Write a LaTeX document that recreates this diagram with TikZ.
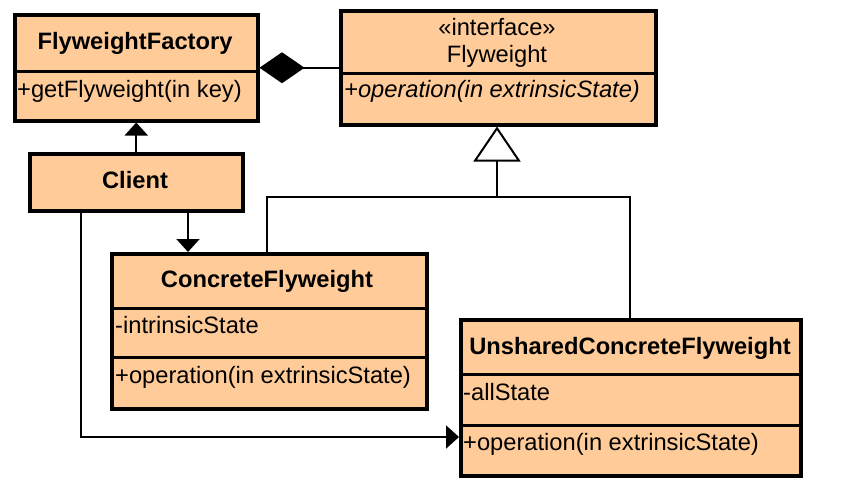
\documentclass[tikz,border=0pt]{standalone}
\usepackage{fontspec}
\setmainfont{Liberation Sans}
\usetikzlibrary{arrows.meta}
\definecolor{boxfill}{RGB}{255,204,153}
\begin{document}
\begin{tikzpicture}[x=1pt,y=-1pt,
  cls/.style={draw, fill=boxfill, line width=3.5pt, rectangle, inner sep=0pt, anchor=north west},
  divider/.style={line width=3pt},
  conn/.style={line width=2pt},
  txt/.style={inner sep=0pt, font=\fontsize{23.7}{28}\selectfont},
  ttl/.style={txt, font=\fontsize{23.7}{28}\selectfont\bfseries, anchor=base},
  mem/.style={txt, anchor=base west},
  navtip/.style={-{Triangle[length=13pt,width=23pt]}},
]
\useasboundingbox (0,0) rectangle (865,493);
% class boxes
\node[cls, minimum width=243pt, minimum height=106pt] (fact) at (13,13) {};
\node[cls, minimum width=315pt, minimum height=114pt] (fly) at (339,9) {};
\node[cls, minimum width=213pt, minimum height=57pt] (client) at (28,152) {};
\node[cls, minimum width=315pt, minimum height=155pt] (cf) at (110,252) {};
\node[cls, minimum width=340pt, minimum height=156pt] (ucf) at (459,318) {};
% dividers
\draw[divider] (fact.west |- 0,71) -- (fact.east |- 0,71);
\draw[divider] (fly.west |- 0,73) -- (fly.east |- 0,73);
\draw[divider] (cf.west |- 0,308) -- (cf.east |- 0,308);
\draw[divider] (cf.west |- 0,357) -- (cf.east |- 0,357);
\draw[divider] (ucf.west |- 0,374) -- (ucf.east |- 0,374);
\draw[divider] (ucf.west |- 0,425) -- (ucf.east |- 0,425);
% texts
\node[ttl] (factT) at (135,49) {FlyweightFactory};
\node[mem] (factM) at (17,97) {+getFlyweight(in key)};
\node[txt, anchor=base] (flyS) at (497,35) {«interface»};
\node[txt, anchor=base] (flyT) at (497,62) {Flyweight};
\node[mem, font=\fontsize{23.7}{28}\selectfont\itshape] (flyM) at (344,97) {+operation(in extrinsicState)};
\node[ttl] (clientT) at (135,188) {Client};
\node[ttl] (cfT) at (267,287) {ConcreteFlyweight};
\node[mem] (cfA) at (115,333) {-intrinsicState};
\node[mem] (cfM) at (115,383) {+operation(in extrinsicState)};
\node[ttl] (ucfT) at (630,354) {UnsharedConcreteFlyweight};
\node[mem] (ucfA) at (463,400) {-allState};
\node[mem] (ucfM) at (463,450) {+operation(in extrinsicState)};
% connectors
\draw[conn, navtip] (client.north) -- (fact.south);
\draw[conn, -{Diamond[length=45pt,width=31pt]}] (fly.west) -- (fact.east);
\coordinate (c1) at (188,209);
\draw[conn, navtip] (c1) -- (c1 |- cf.north);
\coordinate (c2) at (81,209);
\coordinate (c3) at (81,437);
\draw[conn, navtip] (c2) -- (c3) -- (c3 -| ucf.west);
\coordinate (g) at (497,197);
\coordinate (g1) at (267,197);
\coordinate (g2) at (630,197);
\draw[conn] (g1 |- cf.north) -- (g1) -- (g2) -- (g2 |- ucf.north);
\draw[conn, -{Triangle[open,length=35pt,width=47pt,fill=white]}] (g) -- (g |- fly.south);
\end{tikzpicture}
\end{document}
